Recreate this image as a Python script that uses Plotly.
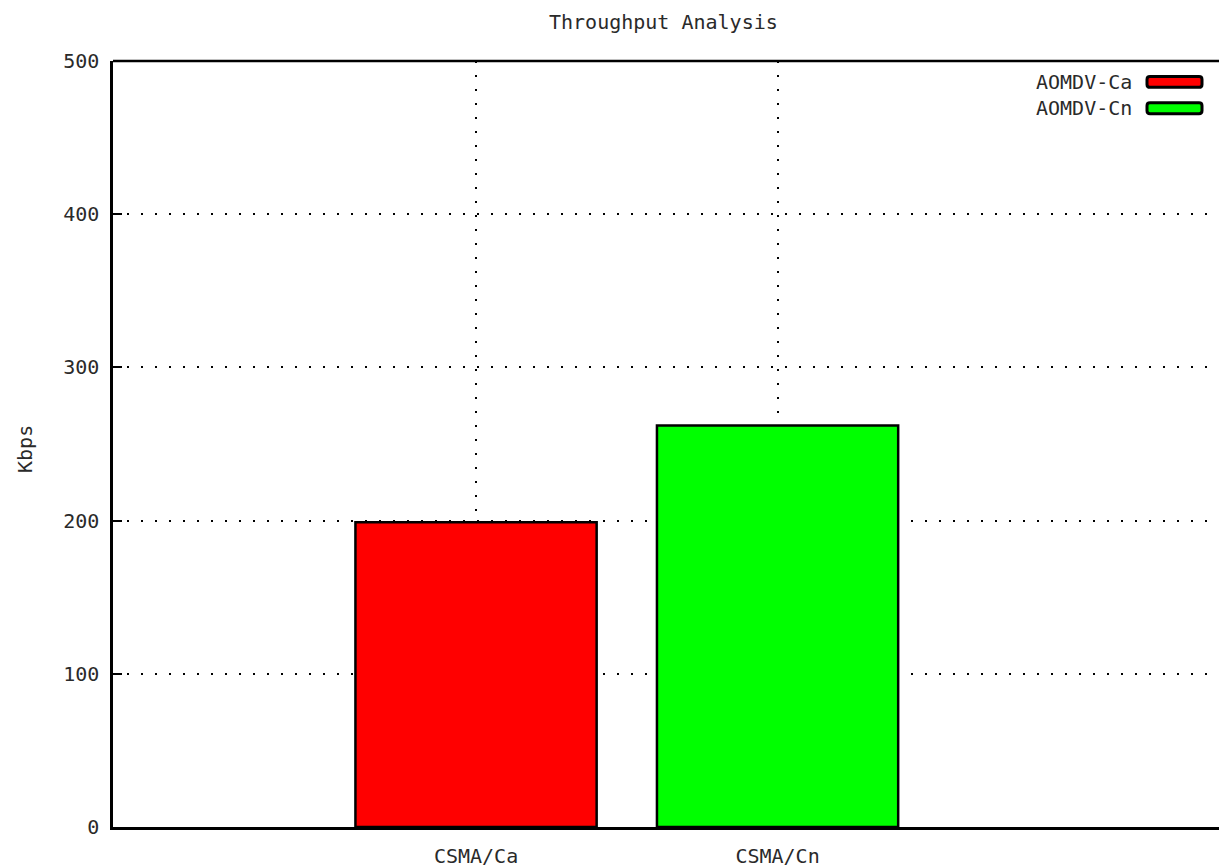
import plotly.graph_objects as go

# Throughput per MAC scheme (Kbps)
categories = ["CSMA/Ca", "CSMA/Cn"]
series_names = ["AOMDV-Ca", "AOMDV-Cn"]
throughput_kbps = [199, 262]
bar_colors = ["#ff0000", "#00ff00"]
y_ticks = [0, 100, 200, 300, 400, 500]

FONT = "DejaVu Sans Mono"
TEXT_COLOR = "#2a2a2a"

W, H = 1219, 868
ML, MR, MT, MB = 113, 0, 61, 37
PW, PH = W - ML - MR, H - MT - MB


def px_to_paper_x(px):
    return (px - ML) / PW


def px_to_paper_y(py):
    return (H - MB - py) / PH


fig = go.Figure()

for i, (name, cat_val, color) in enumerate(zip(series_names, throughput_kbps, bar_colors)):
    fig.add_trace(go.Bar(
        x=[i],
        y=[cat_val],
        name=name,
        width=0.8,
        marker=dict(color=color, line=dict(color="black", width=2.5)),
        showlegend=False,
        hovertemplate=f"{name}<br>{categories[i]}: %{{y}} Kbps<extra></extra>",
    ))

# Legend drawn gnuplot-style: label on the left, sample box on the right
shapes = []
annotations = []
row_centers_px = [82, 108.5]
for name, color, cy in zip(series_names, bar_colors, row_centers_px):
    annotations.append(dict(
        x=px_to_paper_x(1134), y=px_to_paper_y(cy), xref="paper", yref="paper",
        text=name, showarrow=False, xanchor="right", yanchor="middle",
        font=dict(family=FONT, size=20, color=TEXT_COLOR),
    ))
    x0, x1 = px_to_paper_x(1147), px_to_paper_x(1202)
    y0, y1 = px_to_paper_y(cy + 5.5), px_to_paper_y(cy - 5.5)
    rx, ry = 3 / PW, 3 / PH
    path = (f"M{x0 + rx},{y0} L{x1 - rx},{y0} Q{x1},{y0} {x1},{y0 + ry} "
            f"L{x1},{y1 - ry} Q{x1},{y1} {x1 - rx},{y1} "
            f"L{x0 + rx},{y1} Q{x0},{y1} {x0},{y1 - ry} "
            f"L{x0},{y0 + ry} Q{x0},{y0} {x0 + rx},{y0} Z")
    shapes.append(dict(type="path", path=path, xref="paper", yref="paper",
                       fillcolor=color, line=dict(color="black", width=3)))

# Top border of the plot frame
shapes.append(dict(type="line", xref="paper", yref="paper", x0=0, x1=1, y0=1, y1=1,
                   line=dict(color="black", width=2.5)))

# Title and y-axis label
annotations.append(dict(
    x=px_to_paper_x(663.5), y=px_to_paper_y(22), xref="paper", yref="paper",
    text="Throughput Analysis", showarrow=False, xanchor="center", yanchor="middle",
    font=dict(family=FONT, size=20, color=TEXT_COLOR),
))
annotations.append(dict(
    x=px_to_paper_x(25), y=px_to_paper_y(451), xref="paper", yref="paper",
    text="Kbps", showarrow=False, textangle=-90, xanchor="center", yanchor="middle",
    font=dict(family=FONT, size=20, color=TEXT_COLOR),
))

fig.update_layout(
    width=W, height=H,
    margin=dict(l=ML, r=MR, t=MT, b=MB, pad=0),
    paper_bgcolor="white", plot_bgcolor="white",
    barmode="overlay",
    showlegend=False,
    shapes=shapes,
    annotations=annotations,
    font=dict(family=FONT, size=20, color=TEXT_COLOR),
)

fig.update_xaxes(
    range=[-1.204, 2.464],
    tickvals=list(range(len(categories))),
    ticktext=categories,
    showgrid=True, gridcolor="black", gridwidth=1.5, griddash="1.5px,12.5px",
    showline=True, linecolor="black", linewidth=2.5, mirror=False,
    ticks="", ticklabelstandoff=9,
    zeroline=False, fixedrange=True,
)
fig.update_yaxes(
    range=[0, 500],
    tickvals=y_ticks,
    showgrid=True, gridcolor="black", gridwidth=1.5, griddash="1.5px,12.5px",
    showline=True, linecolor="black", linewidth=2.5, mirror=False,
    ticks="inside", ticklen=9, tickwidth=2, tickcolor="black",
    ticklabelstandoff=7,
    zeroline=False, fixedrange=True,
)

fig.write_html("out.html")
